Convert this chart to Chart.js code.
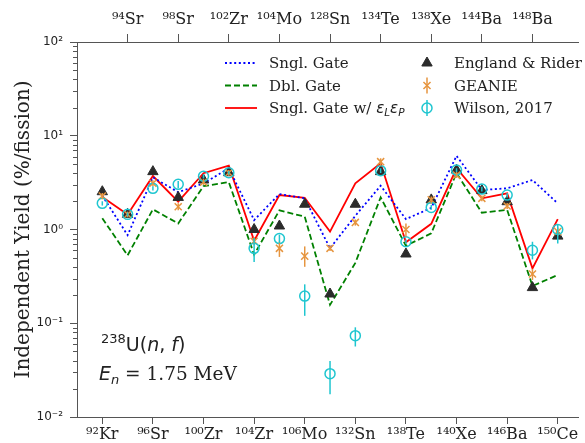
<!DOCTYPE html>
<html lang="en">
<head>
  <meta charset="UTF-8">
  <title>Independent Yield</title>
  <style>
    html, body { margin: 0; padding: 0; background: #fff; overflow: hidden; }
    #wrap { width: 585px; height: 443px; }
  </style>
  <script src="https://cdn.jsdelivr.net/npm/chart.js"></script>
</head>
<body>
  <div id="wrap"><canvas id="yieldChart" width="585" height="443"></canvas></div>

  <script>
    // fragments, in axis order (even index -> bottom axis, odd -> top axis)
    const masses   = [92, 94, 96, 98, 100, 102, 104, 104, 106, 128, 132, 134, 138, 138, 140, 144, 146, 148, 150];
    const elements = ['Kr', 'Sr', 'Sr', 'Sr', 'Zr', 'Zr', 'Zr', 'Mo', 'Mo', 'Sn', 'Sn', 'Te', 'Te', 'Xe', 'Xe', 'Ba', 'Ba', 'Ba', 'Ce'];

    // model curves (%/fission)
    const snglGate = [2.3, 0.87, 3.6, 2.5, 3.1, 4.5, 1.26, 2.39, 2.15, 0.63, 1.4, 2.93, 1.29, 1.7, 6.1, 2.64, 2.75, 3.37, 1.9];
    const dblGate  = [1.32, 0.53, 1.64, 1.16, 2.9, 3.2, 0.54, 1.6, 1.37, 0.157, 0.44, 2.2, 0.67, 0.91, 4.0, 1.51, 1.62, 0.25, 0.327];
    const snglEff  = [2.22, 1.45, 3.72, 1.98, 3.98, 4.8, 0.76, 2.33, 2.18, 0.95, 3.11, 5.08, 0.73, 1.15, 4.5, 2.15, 2.43, 0.385, 1.29];

    // measurements
    const england  = [2.53, 1.45, 4.14, 2.2, 3.37, 4.03, 1.0, 1.09, 1.86, 0.205, 1.86, 4.14, 0.548, 2.07, 4.3, 2.6, 1.98, 0.24, 0.85];
    const geanie   = [2.28, 1.45, 3.11, 1.75, 3.2, 4.03, 0.75, 0.63, 0.52, 0.63, 1.19, 5.29, 1.0, 2.07, 3.8, 2.15, 1.78, 0.335, 0.95];
    const geanieLo = [2.1, 1.35, 2.9, 1.6, 3.0, 3.75, 0.68, 0.51, 0.40, 0.59, 1.1, 4.8, 0.84, 1.9, 3.55, 2.0, 1.65, 0.29, 0.86];
    const geanieHi = [2.45, 1.55, 3.35, 1.9, 3.45, 4.3, 0.83, 0.74, 0.66, 0.68, 1.28, 5.75, 1.16, 2.25, 4.1, 2.3, 1.92, 0.38, 1.05];
    const wilson   = [1.9, 1.45, 2.75, 3.03, 3.7, 4.03, 0.63, 0.80, 0.195, 0.029, 0.0737, 4.24, 0.74, 1.72, 4.3, 2.7, 2.33, 0.6, 1.0];
    const wilsonLo = [1.8, 1.38, 2.6, 2.75, 3.5, 3.85, 0.45, 0.72, 0.12, 0.0175, 0.0565, 4.0, 0.7, 1.62, 4.1, 2.55, 2.2, 0.48, 0.71];
    const wilsonHi = [2.0, 1.52, 2.9, 3.3, 3.9, 4.2, 0.81, 0.88, 0.26, 0.0395, 0.0905, 4.5, 0.78, 1.82, 4.5, 2.85, 2.45, 0.74, 1.12];

    const decades = [-2, -1, 0, 1, 2];

    const SERIF = "'DejaVu Serif', serif";
    const SANS = "'DejaVu Sans', sans-serif";
    const AXIS = '#555';
    const INK = '#222';

    const supDigits = '⁰¹²³⁴⁵⁶⁷⁸⁹';
    const sup = s => String(s).split('').map(c => c === '-' ? '⁻' : supDigits[+c]).join('');
    const isoLabel = i => sup(masses[i]) + elements[i];
    const pts = arr => arr.map((v, i) => ({ x: i, y: v }));

    const evenIdx = masses.map((_, i) => i).filter(i => i % 2 === 0);
    const oddIdx = masses.map((_, i) => i).filter(i => i % 2 === 1);

    // short minor ticks on the log axis
    const minorTicks = {
      id: 'minorTicks',
      afterDraw(chart) {
        const y = chart.scales.y, ctx = chart.ctx, left = chart.chartArea.left;
        ctx.save();
        ctx.strokeStyle = AXIS;
        ctx.lineWidth = 1;
        for (let e = -2; e < 2; e++) {
          for (let k = 2; k <= 9; k++) {
            const py = Math.round(y.getPixelForValue(k * Math.pow(10, e))) + 0.5;
            ctx.beginPath();
            ctx.moveTo(left - 4, py);
            ctx.lineTo(left, py);
            ctx.stroke();
          }
        }
        ctx.restore();
      }
    };

    // vertical error bars for datasets that carry errLo / errHi
    const errorBars = {
      id: 'errorBars',
      afterDatasetsDraw(chart) {
        const { ctx, scales: { x, y } } = chart;
        chart.data.datasets.forEach(ds => {
          if (!ds.errLo) return;
          ctx.save();
          ctx.strokeStyle = ds.borderColor;
          ctx.lineWidth = 1.5;
          ds.data.forEach((p, i) => {
            const px = x.getPixelForValue(p.x);
            ctx.beginPath();
            ctx.moveTo(px, y.getPixelForValue(ds.errLo[i]));
            ctx.lineTo(px, y.getPixelForValue(ds.errHi[i]));
            ctx.stroke();
          });
          ctx.restore();
        });
      }
    };

    // draw a run of text pieces with their own fonts and vertical shifts
    function drawRich(ctx, pieces, x, y) {
      ctx.textBaseline = 'alphabetic';
      ctx.textAlign = 'left';
      pieces.forEach(p => {
        ctx.font = p.font;
        ctx.fillText(p.t, x, y + (p.dy || 0));
        x += ctx.measureText(p.t).width;
      });
    }

    const legendLayout = { rows: [63, 85.5, 108], lineX0: 225, lineX1: 257, text1: 269, markX: 427, text2: 454 };

    const legendBox = {
      id: 'legendBox',
      afterDraw(chart) {
        const ctx = chart.ctx;
        const L = legendLayout;
        ctx.save();
        chart.data.datasets.forEach(ds => {
          const [col, row] = ds.slot;
          const cy = L.rows[row];
          if (col === 0) {
            ctx.strokeStyle = ds.borderColor;
            ctx.lineWidth = ds.borderWidth;
            ctx.setLineDash(ds.borderDash || []);
            ctx.beginPath();
            ctx.moveTo(L.lineX0, cy);
            ctx.lineTo(L.lineX1, cy);
            ctx.stroke();
            ctx.setLineDash([]);
          } else {
            ctx.fillStyle = ds.backgroundColor;
            ctx.strokeStyle = ds.borderColor;
            ctx.lineWidth = ds.pointBorderWidth;
            Chart.helpers.drawPoint(ctx, {
              pointStyle: ds.pointStyle, radius: ds.pointRadius, rotation: 0, borderWidth: ds.pointBorderWidth
            }, L.markX, cy);
            if (ds.errLo) {
              ctx.lineWidth = 1.5;
              ctx.beginPath();
              ctx.moveTo(L.markX, cy - 8);
              ctx.lineTo(L.markX, cy + 8);
              ctx.stroke();
            }
          }
          ctx.fillStyle = INK;
          const tx = col === 0 ? L.text1 : L.text2;
          drawRich(ctx, ds.rich || [{ t: ds.label, font: '15px ' + SERIF }], tx, cy + 5);
        });

        // reaction and beam energy
        ctx.fillStyle = INK;
        drawRich(ctx, [
          { t: '238', font: '13px ' + SANS, dy: -8 },
          { t: 'U(', font: '19px ' + SANS },
          { t: 'n', font: 'italic 19px ' + SANS },
          { t: ', ', font: '19px ' + SANS },
          { t: 'f', font: 'italic 19px ' + SANS },
          { t: ')', font: '19px ' + SANS }
        ], 101, 351);
        drawRich(ctx, [
          { t: 'E', font: 'italic 19px ' + SANS },
          { t: 'n', font: 'italic 13px ' + SANS, dy: 4 },
          { t: ' = 1.75 MeV', font: '18.5px ' + SERIF }
        ], 99, 380);
        ctx.restore();
      }
    };

    const lineBase = { pointRadius: 0, fill: false, tension: 0, borderWidth: 1.8, order: 3, xAxisID: 'x', yAxisID: 'y' };

    const datasets = [
      Object.assign({}, lineBase, {
        label: 'Sngl. Gate', data: pts(snglGate), borderColor: '#0000ff', borderDash: [2, 2.6], slot: [0, 0]
      }),
      Object.assign({}, lineBase, {
        label: 'Dbl. Gate', data: pts(dblGate), borderColor: '#008000', borderDash: [6, 3], slot: [0, 1]
      }),
      Object.assign({}, lineBase, {
        label: 'Sngl. Gate w/ εLεP', data: pts(snglEff), borderColor: '#ff0000', slot: [0, 2],
        rich: [
          { t: 'Sngl. Gate w/ ', font: '15px ' + SERIF },
          { t: 'ε', font: 'italic 15px ' + SANS },
          { t: 'L', font: 'italic 10.5px ' + SANS, dy: 3 },
          { t: 'ε', font: 'italic 15px ' + SANS },
          { t: 'P', font: 'italic 10.5px ' + SANS, dy: 3 }
        ]
      }),
      {
        label: 'England & Rider', data: pts(england), showLine: false, order: 2,
        pointStyle: 'triangle', pointRadius: 6, pointBorderWidth: 1,
        backgroundColor: '#2b2b2b', borderColor: '#2b2b2b', slot: [1, 0]
      },
      {
        label: 'GEANIE', data: pts(geanie), showLine: false, order: 1,
        pointStyle: 'crossRot', pointRadius: 5, pointBorderWidth: 1.5,
        backgroundColor: '#e6953f', borderColor: '#e6953f', errLo: geanieLo, errHi: geanieHi, slot: [1, 1]
      },
      {
        label: 'Wilson, 2017', data: pts(wilson), showLine: false, order: 0,
        pointStyle: 'circle', pointRadius: 5, pointBorderWidth: 1.5,
        backgroundColor: 'rgba(0,0,0,0)', borderColor: '#1fc6d0', errLo: wilsonLo, errHi: wilsonHi, slot: [1, 2]
      }
    ];

    const xCommon = {
      type: 'linear', min: -1, max: 18.8,
      grid: { drawOnChartArea: false, tickLength: 7, color: AXIS },
      border: { color: AXIS, width: 1 },
      ticks: {
        autoSkip: false, maxRotation: 0, color: INK, padding: 1,
        font: { family: SERIF, size: 16 },
        callback: v => isoLabel(v)
      }
    };

    new Chart(document.getElementById('yieldChart'), {
      type: 'line',
      data: { datasets },
      options: {
        responsive: false,
        animation: false,
        layout: { padding: 0 },
        plugins: { legend: { display: false }, tooltip: { enabled: false } },
        scales: {
          x: Object.assign({}, xCommon, {
            position: 'bottom',
            afterBuildTicks: s => { s.ticks = evenIdx.map(v => ({ value: v })); },
            afterFit: s => { s.height = 26; }
          }),
          xTop: Object.assign({}, xCommon, {
            position: 'top',
            grid: { drawOnChartArea: false, tickLength: 8, color: AXIS },
            ticks: Object.assign({}, xCommon.ticks, { padding: 5 }),
            afterBuildTicks: s => { s.ticks = oddIdx.map(v => ({ value: v })); },
            afterFit: s => { s.height = 42; }
          }),
          y: {
            type: 'logarithmic', min: 0.01, max: 100, position: 'left',
            grid: { drawOnChartArea: false, tickLength: 7, color: AXIS },
            border: { color: AXIS, width: 1 },
            afterBuildTicks: s => { s.ticks = decades.map(e => ({ value: Math.pow(10, e), major: true })); },
            ticks: {
              autoSkip: false, color: INK, padding: 7,
              font: { family: SANS, size: 12 },
              callback: v => '10' + sup(Math.round(Math.log10(v)))
            },
            title: {
              display: true, text: 'Independent Yield (%/fission)', color: INK,
              font: { family: SERIF, size: 20 }, padding: { top: 12, bottom: 0 }
            },
            afterFit: s => { s.width = 77; }
          }
        }
      },
      plugins: [minorTicks, errorBars, legendBox]
    });
  </script>
</body>
</html>
